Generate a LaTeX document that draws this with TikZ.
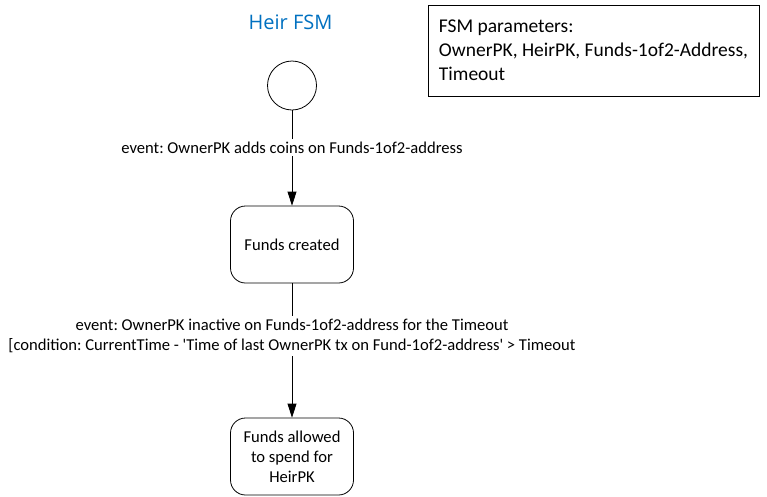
\documentclass[tikz,border=0pt]{standalone}
\usepackage{fontspec}
\setmainfont{Carlito}
\newfontfamily\titlefont{Open Sans}
\usetikzlibrary{arrows.meta,positioning}
\definecolor{titleblue}{RGB}{0,112,192}
\definecolor{linecol}{RGB}{0,0,0}
\frenchspacing
\tikzset{
  init/.style={draw=linecol, circle, minimum size=49pt, inner sep=0pt, line width=0.8pt},
  state/.style={draw=linecol, rounded corners=15pt, minimum width=123pt, minimum height=77pt,
    align=center, font=\fontsize{16.6}{20}\selectfont, inner sep=2pt, line width=0.8pt},
  lbl/.style={fill=white, inner sep=3pt, align=center, font=\fontsize{16.6}{20}\selectfont},
  params/.style={draw=linecol, line width=0.8pt, minimum width=331pt, minimum height=91pt,
    align=left, font=\fontsize{19.5}{24}\selectfont},
  flow/.style={-{Triangle[width=9pt,length=14pt]}, line width=0.8pt, draw=linecol}
}
\begin{document}
\begin{tikzpicture}[x=1pt,y=-1pt]
\useasboundingbox (0,0) rectangle (767,496);
\node[font=\titlefont\fontsize{20}{24}\selectfont, text=titleblue] (title) at (290.5,22) {Heir FSM};
\node[params] (param) at (593.5,50.5) {FSM parameters:\\OwnerPK, HeirPK, Funds-1of2-Address,\\Timeout};
% states
\node[init] (start) at (292,85.5) {};
\node[state] (created) at (292,244.5) {Funds created};
\node[state] (spend) at (292,456.5) {Funds allowed\\to spend for\\HeirPK};
% transitions
\draw[flow] (start) -- node[lbl, pos=0.39] {event: OwnerPK adds coins on Funds-1of2-address} (created);
\draw[flow] (created) -- node[lbl, pos=0.39] {event: OwnerPK inactive on Funds-1of2-address for the Timeout\\
  {[}condition: CurrentTime - \textquotesingle Time of last OwnerPK tx on Fund-1of2-address\textquotesingle{} > Timeout} (spend);
\end{tikzpicture}
\end{document}
